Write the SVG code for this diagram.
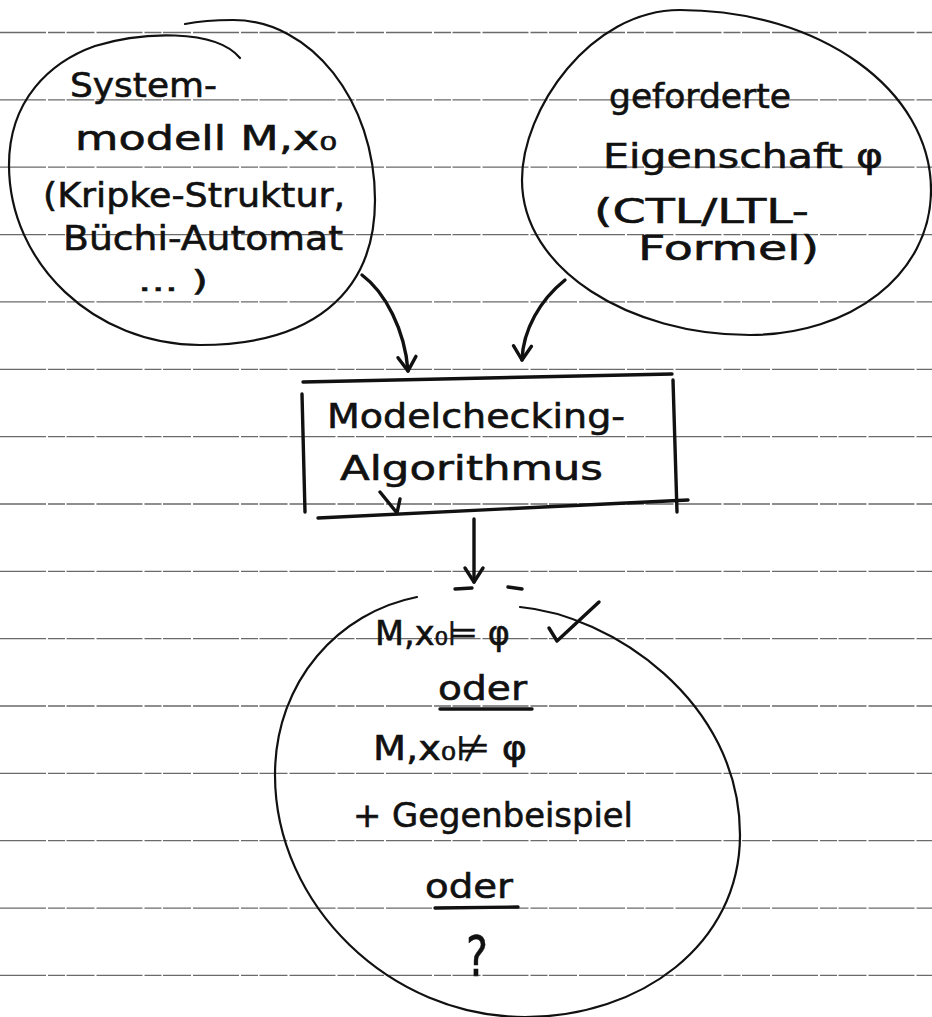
<svg xmlns="http://www.w3.org/2000/svg" width="932" height="1017" viewBox="0 0 932 1017">
<style>
.rule{stroke:#6a6a6a;stroke-width:1.3;stroke-dasharray:46 2 17 1.5 28 2;fill:none}
.oval{fill:none;stroke:#111;stroke-width:2.2;stroke-linecap:round;stroke-linejoin:round}
.ink{fill:none;stroke:#111;stroke-width:3.4;stroke-linecap:round;stroke-linejoin:round}
.hw{font-family:"DejaVu Sans","Liberation Sans",sans-serif;font-size:34px;fill:#111;stroke:#111;stroke-width:0.6}
</style>
<defs>
<marker id="ah" viewBox="-18 -12 20 24" refX="0" refY="0" markerWidth="20" markerHeight="24" markerUnits="userSpaceOnUse" orient="auto" overflow="visible">
<path d="M-14,-9 L0,0 L-14,9" fill="none" stroke="#111" stroke-width="3.4" stroke-linecap="round" stroke-linejoin="round"/>
</marker>
</defs>
<rect width="932" height="1017" fill="#ffffff"/>
<g id="paper">
<line class="rule" x1="0" y1="32.5" x2="932" y2="32.5"/>
<line class="rule" x1="0" y1="99.9" x2="932" y2="99.9"/>
<line class="rule" x1="0" y1="167.2" x2="932" y2="167.2"/>
<line class="rule" x1="0" y1="234.6" x2="932" y2="234.6"/>
<line class="rule" x1="0" y1="301.9" x2="932" y2="301.9"/>
<line class="rule" x1="0" y1="369.3" x2="932" y2="369.3"/>
<line class="rule" x1="0" y1="436.6" x2="932" y2="436.6"/>
<line class="rule" x1="0" y1="504" x2="932" y2="504"/>
<line class="rule" x1="0" y1="571.3" x2="932" y2="571.3"/>
<line class="rule" x1="0" y1="638.7" x2="932" y2="638.7"/>
<line class="rule" x1="0" y1="706" x2="932" y2="706"/>
<line class="rule" x1="0" y1="773.4" x2="932" y2="773.4"/>
<line class="rule" x1="0" y1="840.7" x2="932" y2="840.7"/>
<line class="rule" x1="0" y1="908.1" x2="932" y2="908.1"/>
<line class="rule" x1="0" y1="975.4" x2="932" y2="975.4"/>
</g>
<g id="node-systemmodell">
<path class="oval" d="M185,24 Q205,20 233,20 C311,20 375,101 375,200 C375,295 310,345 200,345 C95,345 9,264 9,165 C9,100 50,62 95,46 C140,32 215,28 240,58"/>
<text class="hw" x="70" y="97" textLength="147" lengthAdjust="spacingAndGlyphs">System-</text>
<text class="hw" x="75" y="150" textLength="262" lengthAdjust="spacingAndGlyphs">modell M,x₀</text>
<text class="hw" x="43" y="207" textLength="302" lengthAdjust="spacingAndGlyphs">(Kripke-Struktur,</text>
<text class="hw" x="63" y="250" textLength="280" lengthAdjust="spacingAndGlyphs">Büchi-Automat</text>
<text class="hw" x="138" y="291" textLength="70" lengthAdjust="spacingAndGlyphs" style="font-size:29px">... )</text>
</g>
<g id="node-eigenschaft">
<path class="oval" d="M680,10 C820,10 931,90 931,190 C931,275 850,335 750,335 C630,335 522,270 522,180 C522,110 590,10 680,10"/>
<text class="hw" x="609" y="108" textLength="182" lengthAdjust="spacingAndGlyphs">geforderte</text>
<text class="hw" x="603" y="168" textLength="280" lengthAdjust="spacingAndGlyphs">Eigenschaft φ</text>
<text class="hw" x="594" y="223" textLength="215" lengthAdjust="spacingAndGlyphs">(CTL/LTL-</text>
<text class="hw" x="638" y="260" textLength="181" lengthAdjust="spacingAndGlyphs">Formel)</text>
</g>
<g id="node-algorithmus">
<path class="ink" d="M303,382 L672,374"/>
<path class="ink" d="M302,394 L305,512"/>
<path class="ink" d="M673,380 L677,512"/>
<path class="ink" d="M318,518 L688,500"/>
<path class="ink" d="M380,492 L397,513 L400,499"/>
<text class="hw" x="327" y="428" textLength="298" lengthAdjust="spacingAndGlyphs">Modelchecking-</text>
<text class="hw" x="340" y="480" textLength="263" lengthAdjust="spacingAndGlyphs">Algorithmus</text>
</g>
<g id="node-ergebnis">
<path class="oval" d="M520,607 C610,615 740,700 740,835 C740,945 640,1017 525,1017 C390,1017 275,905 275,775 C275,680 340,612 417,597"/>
<text class="hw" x="375" y="645" textLength="135" lengthAdjust="spacingAndGlyphs">M,x₀⊨ φ</text>
<path class="ink" d="M549,628 L557,641 L599,602"/>
<text class="hw" x="438" y="700" textLength="89" lengthAdjust="spacingAndGlyphs">oder</text>
<path class="ink" d="M440,709 L532,709"/>
<text class="hw" x="373" y="760" textLength="154" lengthAdjust="spacingAndGlyphs">M,x₀⊭ φ</text>
<text class="hw" x="353" y="827" textLength="280" lengthAdjust="spacingAndGlyphs">+ Gegenbeispiel</text>
<text class="hw" x="425" y="898" textLength="88" lengthAdjust="spacingAndGlyphs">oder</text>
<path class="ink" d="M435,908 L518,907"/>
<text class="hw" x="466" y="975" textLength="22" lengthAdjust="spacingAndGlyphs" style="font-size:56px">?</text>
</g>
<g id="connectors">
<path class="ink" d="M362,275 C385,292 405,330 408,371" marker-end="url(#ah)"/>
<path class="ink" d="M565,280 C540,300 523,330 522,360" marker-end="url(#ah)"/>
<path class="ink" d="M474,519 L474,582" marker-end="url(#ah)"/>
<path class="ink" d="M455,589 L472,588 M508,587 L522,589"/>
</g>
</svg>
